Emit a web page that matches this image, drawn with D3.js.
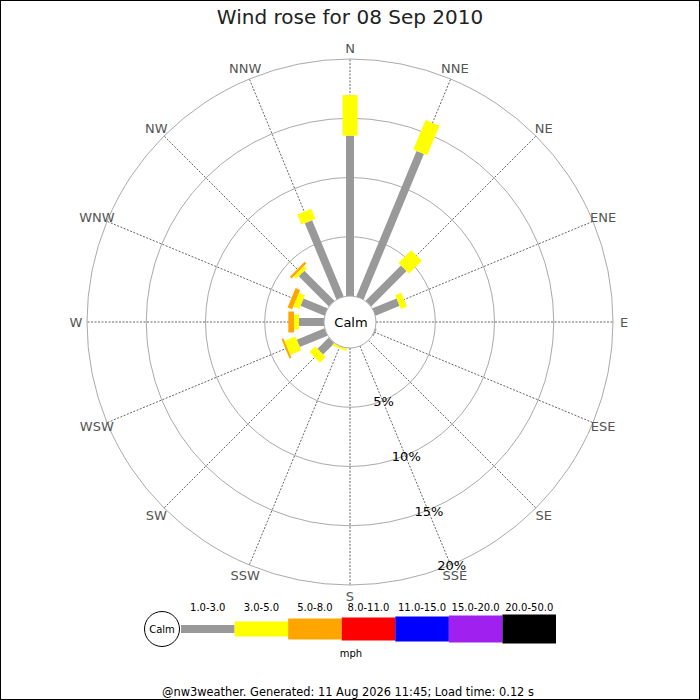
<!DOCTYPE html>
<html>
<head>
<meta charset="utf-8">
<script src="https://cdn.jsdelivr.net/npm/d3@7"></script>
<style>
body { margin: 0; background: #fff; }
text { font-family: "DejaVu Sans", sans-serif; }
</style>
</head>
<body>
<div id="rose"></div>
<script>
// compass points, clockwise from north
var directions = ["N","NNE","NE","ENE","E","ESE","SE","SSE","S","SSW","SW","WSW","W","WNW","NW","NNW"];
// speed bins (mph)
var speedBins = ["1.0-3.0","3.0-5.0","5.0-8.0","8.0-11.0","11.0-15.0","15.0-20.0","20.0-50.0"];
// % of time per direction, one array per bin
var speed1to3   = [13.53,13.29,4.22,2.2,0,0.1,0,0,0,0,1.35,2.53,2.11,2.19,3.59,6.97];
var speed3to5   = [3.43,2.71,1.52,0.55,0,0,0,0,0,0.2,0.68,1.0,0.42,0.54,0.3,0.92];
var speed5to8   = [0,0,0,0,0,0,0,0,0,0,0,0.17,0.48,0.41,0.21,0];
var speed8to11  = [0,0,0,0,0,0,0,0,0,0,0,0,0,0,0,0];
var speed11to15 = [0,0,0,0,0,0,0,0,0,0,0,0,0,0,0,0];
var speed15to20 = [0,0,0,0,0,0,0,0,0,0,0,0,0,0,0,0];
var speed20to50 = [0,0,0,0,0,0,0,0,0,0,0,0,0,0,0,0];
var ringTicks = [5,10,15,20];

var title = "Wind rose for 08 Sep 2010";
var footer = "@nw3weather. Generated: 11 Aug 2026 11:45; Load time: 0.12 s";

// styles
var binColors = ["#999999","#ffff00","#ffa500","#ff0000","#0000ff","#a020f0","#000000"];
var binWidths = [8,15,21,23,25,27,29];

var width = 700, height = 700;
var cx = 350, cy = 322;
var calmR = 26;

var series = [speed1to3,speed3to5,speed5to8,speed8to11,speed11to15,speed15to20,speed20to50];

// one row per direction for d3.stack
var table = directions.map(function(d, i) {
  var row = { dir: d };
  speedBins.forEach(function(b, j) { row[b] = series[j][i]; });
  return row;
});
var stacked = d3.stack().keys(speedBins)(table);

var svg = d3.select("#rose")
  .append("svg")
  .attr("width", width)
  .attr("height", height);

// frame
svg.append("rect")
  .attr("x", 0).attr("y", 0)
  .attr("width", width).attr("height", height)
  .attr("fill", "#fff")
  .attr("stroke", "#000")
  .attr("stroke-width", 2);

// scales
var rScale = d3.scaleLinear().domain([0, 20]).range([calmR, 263]);
var aScale = d3.scalePoint().domain(directions).range([0, 337.5]);

function polar(angle, r) {
  var a = angle * Math.PI / 180;
  return [cx + r * Math.sin(a), cy - r * Math.cos(a)];
}

var rose = svg.append("g");

// rings
rose.selectAll("circle.ring")
  .data(ringTicks)
  .enter()
  .append("circle")
  .attr("class", "ring")
  .attr("cx", cx).attr("cy", cy)
  .attr("r", d => rScale(d))
  .attr("fill", "none")
  .attr("stroke", "#aaa")
  .attr("stroke-width", 1);

// spokes
rose.selectAll("line.spoke")
  .data(directions)
  .enter()
  .append("line")
  .attr("class", "spoke")
  .attr("x1", d => polar(aScale(d), calmR)[0])
  .attr("y1", d => polar(aScale(d), calmR)[1])
  .attr("x2", d => polar(aScale(d), rScale(20))[0])
  .attr("y2", d => polar(aScale(d), rScale(20))[1])
  .attr("stroke", "#666")
  .attr("stroke-width", 1)
  .attr("stroke-dasharray", "2,1.5");

// direction labels
rose.selectAll("text.dir")
  .data(directions)
  .enter()
  .append("text")
  .attr("class", "dir")
  .attr("x", d => polar(aScale(d), 274)[0])
  .attr("y", d => polar(aScale(d), 274)[1])
  .attr("text-anchor", "middle")
  .attr("dominant-baseline", "central")
  .style("font-size", "13px")
  .style("fill", "#555")
  .text(d => d);

// bars, stacked outward
stacked.forEach(function(layer, j) {
  rose.append("g")
    .selectAll("rect")
    .data(layer)
    .enter()
    .append("rect")
    .attr("x", -binWidths[j] / 2)
    .attr("y", d => -rScale(d[1]))
    .attr("width", binWidths[j])
    .attr("height", d => rScale(d[1]) - rScale(d[0]))
    .attr("transform", d => "translate(" + cx + "," + cy + ") rotate(" + aScale(d.data.dir) + ")")
    .attr("fill", binColors[j]);
});

// calm circle
rose.append("circle")
  .attr("cx", cx).attr("cy", cy)
  .attr("r", calmR)
  .attr("fill", "#fff")
  .attr("stroke", "#aaa");
rose.append("text")
  .attr("x", cx + 1).attr("y", cy)
  .attr("text-anchor", "middle")
  .attr("dominant-baseline", "central")
  .style("font-size", "13px")
  .text("Calm");

// percentage labels along SSE
rose.selectAll("text.pct")
  .data(ringTicks)
  .enter()
  .append("text")
  .attr("class", "pct")
  .attr("x", d => polar(aScale("SSE"), rScale(d))[0] + 1)
  .attr("y", d => polar(aScale("SSE"), rScale(d))[1] + 1)
  .attr("text-anchor", "middle")
  .attr("dominant-baseline", "central")
  .style("font-size", "13px")
  .style("fill", "#000")
  .text(d => d + "%");

// title
svg.append("text")
  .attr("x", 350).attr("y", 24)
  .attr("text-anchor", "middle")
  .style("font-size", "20px")
  .style("fill", "#222")
  .text(title);

// legend
var legendX = d3.scaleBand().domain(speedBins).range([181, 556]);
var legendMid = 629;
var legend = svg.append("g");

legend.selectAll("rect")
  .data(speedBins)
  .enter()
  .append("rect")
  .attr("x", d => legendX(d))
  .attr("y", (d, i) => legendMid - binWidths[i] / 2)
  .attr("width", legendX.bandwidth())
  .attr("height", (d, i) => binWidths[i])
  .attr("fill", (d, i) => binColors[i]);

legend.selectAll("text.bin")
  .data(speedBins)
  .enter()
  .append("text")
  .attr("class", "bin")
  .attr("x", d => legendX(d) + legendX.bandwidth() / 2)
  .attr("y", 611)
  .attr("text-anchor", "middle")
  .style("font-size", "10px")
  .text(d => d);

legend.append("circle")
  .attr("cx", 162).attr("cy", legendMid)
  .attr("r", 17.5)
  .attr("fill", "#fff")
  .attr("stroke", "#000");
legend.append("text")
  .attr("x", 162).attr("y", legendMid)
  .attr("text-anchor", "middle")
  .attr("dominant-baseline", "central")
  .style("font-size", "10px")
  .text("Calm");

legend.append("text")
  .attr("x", 351).attr("y", 657)
  .attr("text-anchor", "middle")
  .style("font-size", "10px")
  .text("mph");

// footer
svg.append("text")
  .attr("x", 348).attr("y", 696)
  .attr("text-anchor", "middle")
  .style("font-size", "11.4px")
  .style("fill", "#000")
  .text(footer);
</script>
</body>
</html>
